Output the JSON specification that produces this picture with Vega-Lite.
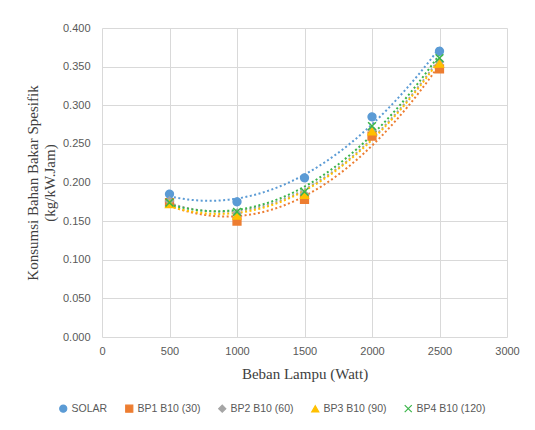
{
  "$schema": "https://vega.github.io/schema/vega-lite/v6.json",
  "autosize": "none",
  "width": 405,
  "height": 309,
  "padding": {"left": 102, "top": 28, "right": 28, "bottom": 93},
  "background": "white",
  "config": {
    "view": {"stroke": null},
    "axis": {"labelFont": "Liberation Sans", "labelFontSize": 11, "labelColor": "#595959", "gridColor": "#D9D9D9", "gridWidth": 1, "domain": false, "ticks": false, "labelFlush": false, "titleFont": "Liberation Serif", "titleFontWeight": "normal", "titleColor": "#404040", "titleFontSize": 15}
  },
  "data": {
    "values": [
      {"series": "SOLAR", "x": 500, "y": 0.185},
      {"series": "SOLAR", "x": 1000, "y": 0.175},
      {"series": "SOLAR", "x": 1500, "y": 0.206},
      {"series": "SOLAR", "x": 2000, "y": 0.285},
      {"series": "SOLAR", "x": 2500, "y": 0.370},
      {"series": "BP1 B10 (30)", "x": 500, "y": 0.174},
      {"series": "BP1 B10 (30)", "x": 1000, "y": 0.150},
      {"series": "BP1 B10 (30)", "x": 1500, "y": 0.178},
      {"series": "BP1 B10 (30)", "x": 2000, "y": 0.260},
      {"series": "BP1 B10 (30)", "x": 2500, "y": 0.347},
      {"series": "BP2 B10 (60)", "x": 500, "y": 0.176},
      {"series": "BP2 B10 (60)", "x": 1000, "y": 0.160},
      {"series": "BP2 B10 (60)", "x": 1500, "y": 0.185},
      {"series": "BP2 B10 (60)", "x": 2000, "y": 0.268},
      {"series": "BP2 B10 (60)", "x": 2500, "y": 0.356},
      {"series": "BP3 B10 (90)", "x": 500, "y": 0.172},
      {"series": "BP3 B10 (90)", "x": 1000, "y": 0.157},
      {"series": "BP3 B10 (90)", "x": 1500, "y": 0.184},
      {"series": "BP3 B10 (90)", "x": 2000, "y": 0.266},
      {"series": "BP3 B10 (90)", "x": 2500, "y": 0.354},
      {"series": "BP4 B10 (120)", "x": 500, "y": 0.174},
      {"series": "BP4 B10 (120)", "x": 1000, "y": 0.162},
      {"series": "BP4 B10 (120)", "x": 1500, "y": 0.188},
      {"series": "BP4 B10 (120)", "x": 2000, "y": 0.273},
      {"series": "BP4 B10 (120)", "x": 2500, "y": 0.361}
    ]
  },
  "layer": [
    {
      "transform": [
        {"regression": "y", "on": "x", "groupby": ["series"], "method": "poly", "order": 2, "extent": [500, 2500]}
      ],
      "mark": {"type": "line", "strokeDash": [2, 2.5], "strokeWidth": 2, "interpolate": "monotone"},
      "encoding": {
        "x": {"field": "x", "type": "quantitative", "scale": {"domain": [0, 3000]}, "axis": {"values": [0, 500, 1000, 1500, 2000, 2500, 3000], "format": "d", "labelPadding": 8, "title": "Beban Lampu (Watt)", "titlePadding": 10}},
        "y": {"field": "y", "type": "quantitative", "scale": {"domain": [0, 0.4]}, "axis": {"values": [0, 0.05, 0.1, 0.15, 0.2, 0.25, 0.3, 0.35, 0.4], "format": ".3f", "labelPadding": 12, "title": ["Konsumsi Bahan Bakar Spesifik", "(kg/kW.Jam)"], "titlePadding": 5, "titleLineHeight": 17}},
        "stroke": {"field": "series", "type": "nominal", "scale": {"domain": ["SOLAR", "BP1 B10 (30)", "BP2 B10 (60)", "BP3 B10 (90)", "BP4 B10 (120)"], "range": ["#5B9BD5", "#ED7D31", "#A5A5A5", "#FFC000", "#3BB54A"]},
          "legend": {"title": null, "orient": "none", "legendX": -44, "legendY": 375, "direction": "horizontal", "columns": 5, "columnPadding": 15, "labelFont": "Liberation Sans", "labelFontSize": 10.5, "labelColor": "#595959", "symbolSize": 50, "symbolStrokeWidth": 1.2, "labelOffset": 3}},
        "detail": {"field": "series"}
      }
    },
    {
      "mark": {"type": "point", "filled": true, "opacity": 1, "strokeWidth": 1.5, "size": 60, "strokeDash": [1, 0]},
      "encoding": {
        "x": {"field": "x", "type": "quantitative", "axis": {"values": [0, 500, 1000, 1500, 2000, 2500, 3000], "format": "d", "labelPadding": 8, "title": "Beban Lampu (Watt)", "titlePadding": 10}},
        "y": {"field": "y", "type": "quantitative", "axis": {"values": [0, 0.05, 0.1, 0.15, 0.2, 0.25, 0.3, 0.35, 0.4], "format": ".3f", "labelPadding": 12, "title": ["Konsumsi Bahan Bakar Spesifik", "(kg/kW.Jam)"], "titlePadding": 5, "titleLineHeight": 17}},
        "fill": {"field": "series", "type": "nominal", "scale": {"domain": ["SOLAR", "BP1 B10 (30)", "BP2 B10 (60)", "BP3 B10 (90)", "BP4 B10 (120)"], "range": ["#5B9BD5", "#ED7D31", "#A5A5A5", "#FFC000", "#3BB54A"]},
          "legend": {"title": null, "orient": "none", "legendX": -44, "legendY": 375, "direction": "horizontal", "columns": 5, "columnPadding": 15, "labelFont": "Liberation Sans", "labelFontSize": 10.5, "labelColor": "#595959", "symbolSize": 50, "symbolStrokeWidth": 1.2, "labelOffset": 3}},
        "stroke": {"field": "series", "type": "nominal"},
        "shape": {"field": "series", "type": "nominal", "scale": {"domain": ["SOLAR", "BP1 B10 (30)", "BP2 B10 (60)", "BP3 B10 (90)", "BP4 B10 (120)"], "range": ["circle", "square", "diamond", "triangle-up", "M-1,-1L1,1M-1,1L1,-1"]}}
      }
    }
  ]
}
